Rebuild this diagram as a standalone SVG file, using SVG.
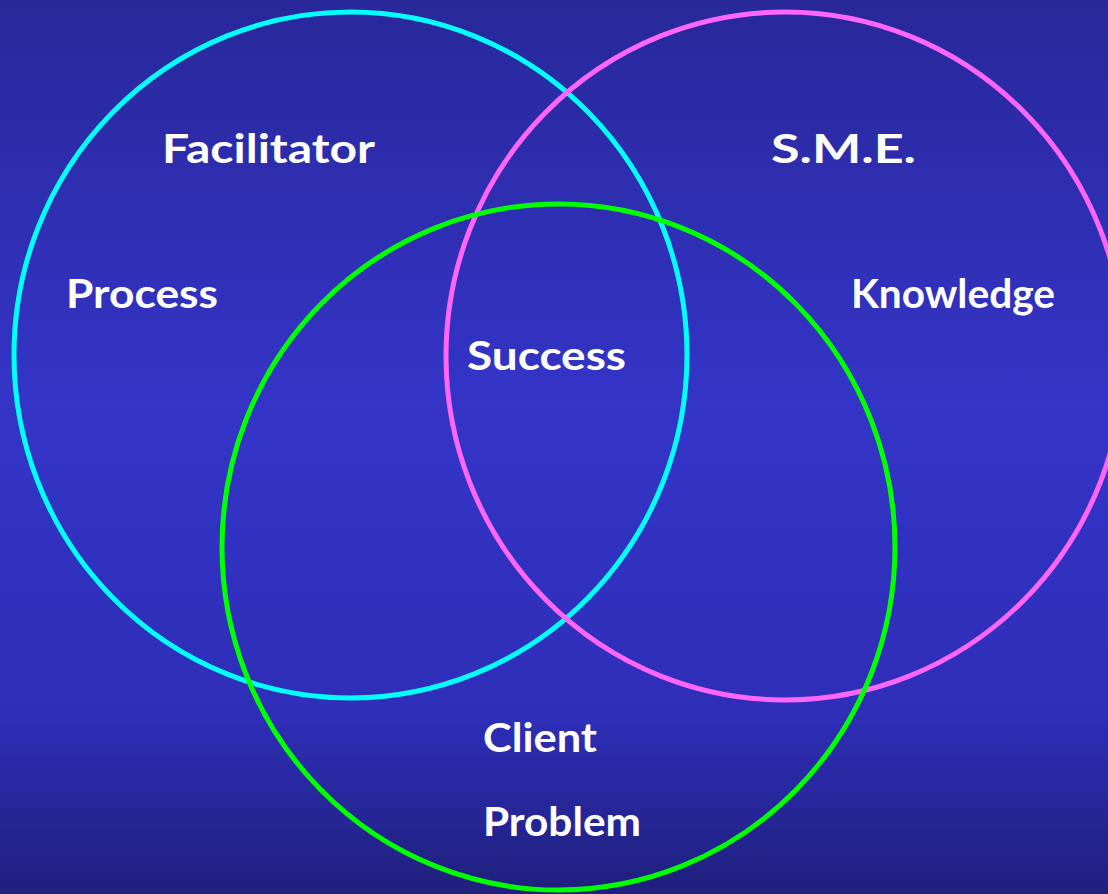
<svg xmlns="http://www.w3.org/2000/svg" width="1108" height="894" viewBox="0 0 1108 894">
  <defs>
    <linearGradient id="bg" x1="0" y1="0" x2="0" y2="1">
      <stop offset="0" stop-color="#28289a"/>
      <stop offset="0.45" stop-color="#3434c8"/>
      <stop offset="0.8" stop-color="#2e2eb8"/>
      <stop offset="1" stop-color="#1f1f7c"/>
    </linearGradient>
  </defs>
  <style>
    .ring { fill: none; stroke-width: 5; }
    .label { fill: #ffffff; font-family: "Comic Sans MS", Lato, "DejaVu Sans", sans-serif; font-weight: bold; font-size: 40px; }
  </style>
  <rect x="0" y="0" width="1108" height="894" fill="url(#bg)"/>

  <g id="facilitator">
    <ellipse class="ring" cx="350.5" cy="355" rx="336.5" ry="343" stroke="#00ffff"/>
    <text class="label" x="162" y="163" textLength="213" lengthAdjust="spacingAndGlyphs">Facilitator</text>
    <text class="label" x="66" y="308" textLength="152" lengthAdjust="spacingAndGlyphs">Process</text>
  </g>

  <g id="sme">
    <ellipse class="ring" cx="785" cy="356" rx="339" ry="344" stroke="#ff66ff"/>
    <text class="label" x="771" y="163" textLength="145" lengthAdjust="spacingAndGlyphs">S.M.E.</text>
    <text class="label" x="851" y="308" textLength="204" lengthAdjust="spacingAndGlyphs">Knowledge</text>
  </g>

  <g id="client">
    <ellipse class="ring" cx="558.5" cy="547" rx="336.5" ry="343" stroke="#00ff00"/>
    <text class="label" x="483" y="752" textLength="114" lengthAdjust="spacingAndGlyphs">Client</text>
    <text class="label" x="483" y="836" textLength="158" lengthAdjust="spacingAndGlyphs">Problem</text>
  </g>

  <g id="success">
    <text class="label" x="467" y="370" textLength="159" lengthAdjust="spacingAndGlyphs">Success</text>
  </g>

  <g id="connectors"/>
</svg>
